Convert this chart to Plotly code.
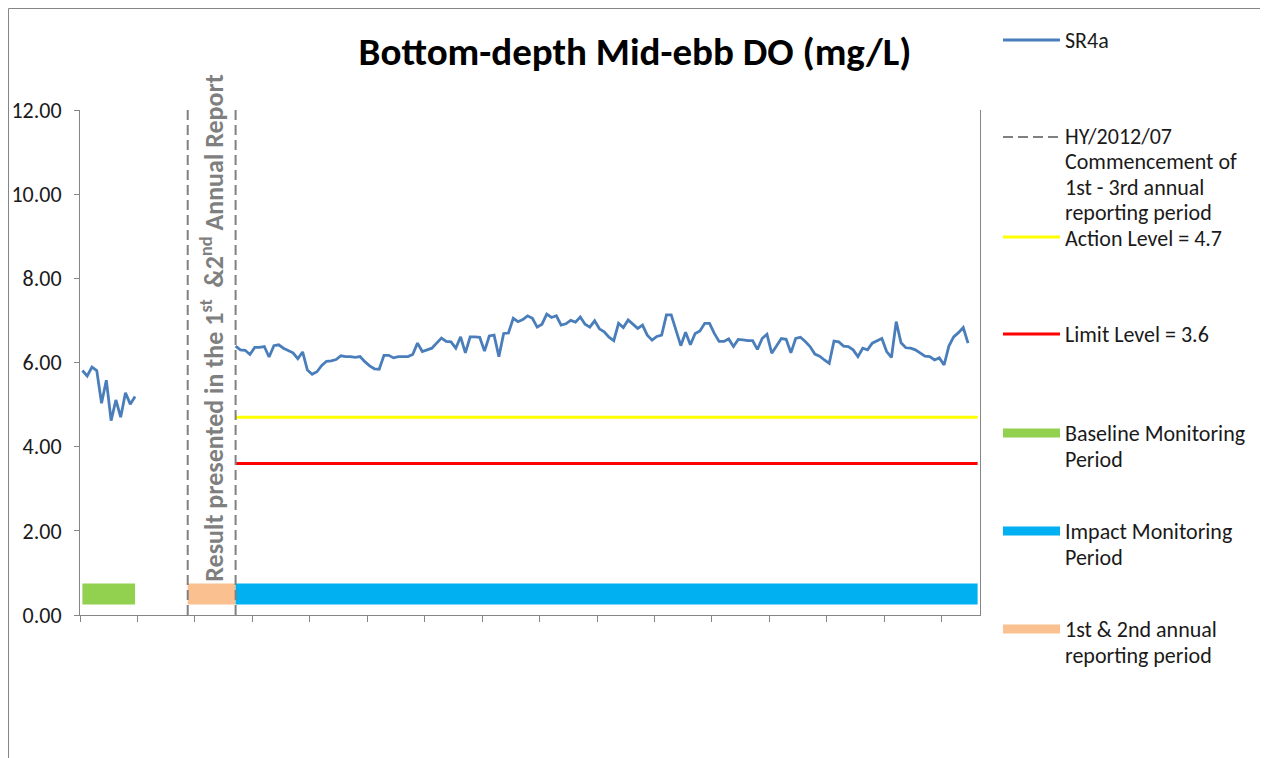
import plotly.graph_objects as go

# ---------------- data ----------------
N_CATEGORIES = 188                      # monitoring-event categories on the x axis
TICK_EVERY = 12                         # a tick mark every 12 categories

baseline_start = 0
baseline_do = [5.81, 5.68, 5.89, 5.81, 5.03, 5.58, 4.62, 5.11, 4.70, 5.28, 5.01, 5.19]

impact_start = 32
impact_do = [
    6.39, 6.30, 6.29, 6.19, 6.36, 6.36, 6.38, 6.13, 6.40, 6.42,
    6.34, 6.29, 6.23, 6.09, 6.25, 5.82, 5.72, 5.78, 5.93, 6.03,
    6.04, 6.07, 6.16, 6.14, 6.14, 6.12, 6.14, 6.02, 5.92, 5.85,
    5.84, 6.17, 6.17, 6.11, 6.14, 6.14, 6.14, 6.19, 6.46, 6.26,
    6.30, 6.34, 6.46, 6.58, 6.50, 6.49, 6.34, 6.61, 6.23, 6.61,
    6.61, 6.60, 6.27, 6.63, 6.65, 6.14, 6.69, 6.70, 7.05, 6.97,
    7.02, 7.11, 7.05, 6.84, 6.91, 7.15, 7.07, 7.11, 6.89, 6.92,
    7.00, 6.96, 7.08, 6.91, 6.84, 6.99, 6.80, 6.73, 6.60,
    6.52, 6.93, 6.83, 7.01, 6.91, 6.81, 6.89, 6.65, 6.53, 6.62,
    6.65, 7.13, 7.13, 6.77, 6.40, 6.72, 6.42, 6.69, 6.75, 6.93,
    6.93, 6.69, 6.50, 6.50, 6.56, 6.38, 6.55, 6.54, 6.52, 6.52,
    6.31, 6.57, 6.67, 6.22, 6.38, 6.57, 6.55, 6.23, 6.57, 6.60,
    6.50, 6.38, 6.20, 6.15, 6.06, 5.98, 6.51, 6.49, 6.39, 6.38,
    6.30, 6.14, 6.34, 6.30, 6.46, 6.51, 6.57, 6.26, 6.12, 6.97,
    6.47, 6.35, 6.34, 6.30, 6.22, 6.15, 6.14, 6.06, 6.11, 5.94,
    6.39, 6.61, 6.71, 6.83, 6.46,
]

commencement_lines = [22, 32]           # HY/2012/07 commencement markers (category index)
action_level = 4.7
limit_level = 3.6
level_span = [32, 187]

period_level = 0.5
baseline_period = [0, 11]
annual_period = [22, 32]
impact_period = [32, 187]

y_ticks = [0, 2, 4, 6, 8, 10, 12]

# ---------------- styles ----------------
FONT = "Calibri, Carlito, Lato, sans-serif"
C_SERIES = "#4A7EBB"
C_DASH = "#808080"
C_ACTION = "#FFFF00"
C_LIMIT = "#FF0000"
C_BASE = "#92D050"
C_IMPACT = "#00B0F0"
C_ANNUAL = "#FAC090"
AXIS_C = "#868686"
TXT_C = "#1a1a1a"

fig = go.Figure()

# period bars
for per, col in [(baseline_period, C_BASE), (annual_period, C_ANNUAL), (impact_period, C_IMPACT)]:
    fig.add_trace(go.Scatter(x=per, y=[period_level, period_level], mode="lines",
                             line=dict(color=col, width=21), showlegend=False, hoverinfo="skip"))

# action / limit levels
fig.add_trace(go.Scatter(x=level_span, y=[action_level] * 2, mode="lines",
                         line=dict(color=C_ACTION, width=3), showlegend=False))
fig.add_trace(go.Scatter(x=level_span, y=[limit_level] * 2, mode="lines",
                         line=dict(color=C_LIMIT, width=3), showlegend=False))

# commencement dashed lines
for cx in commencement_lines:
    fig.add_trace(go.Scatter(x=[cx, cx], y=[0, 12], mode="lines",
                             line=dict(color=C_DASH, width=2, dash="10px,5px"),
                             showlegend=False, hoverinfo="skip"))

# SR4a series
fig.add_trace(go.Scatter(x=list(range(baseline_start, baseline_start + len(baseline_do))),
                         y=baseline_do, mode="lines",
                         line=dict(color=C_SERIES, width=2.8), showlegend=False, name="SR4a"))
fig.add_trace(go.Scatter(x=list(range(impact_start, impact_start + len(impact_do))),
                         y=impact_do, mode="lines",
                         line=dict(color=C_SERIES, width=2.8), showlegend=False, name="SR4a"))

# ---------------- layout ----------------
OFF = 8                                  # page offset of the figure in the window
W, H = 1256, 750
L, T = 72, 102
PW, PH = 900, 505
R, B = W - L - PW, H - T - PH


def px_x(sx):
    return (sx - OFF - L) / PW


def px_y(sy):
    return (T + PH - (sy - OFF)) / PH


fig.update_layout(
    width=W, height=H,
    margin=dict(l=L, r=R, t=T, b=B, autoexpand=False),
    paper_bgcolor="white", plot_bgcolor="white",
    font=dict(family=FONT, color=TXT_C),
    showlegend=False,
    title=dict(text="<b>Bottom-depth Mid-ebb DO (mg/L)</b>", x=(635 - OFF) / W, xref="container",
               y=1 - (51 - OFF) / H, yanchor="middle", xanchor="center", automargin=False,
               font=dict(size=39, family=FONT, color="#000000")),
)

fig.update_xaxes(range=[-0.5, N_CATEGORIES - 0.5], showgrid=False, zeroline=False,
                 showline=True, linecolor=AXIS_C, linewidth=1, automargin=False,
                 ticks="outside", ticklen=6, tickcolor=AXIS_C,
                 tick0=-0.5, dtick=TICK_EVERY, showticklabels=False)
fig.update_yaxes(range=[0, 12], showgrid=False, zeroline=False, automargin=False,
                 showline=True, linecolor=AXIS_C, linewidth=1, mirror=True,
                 ticks="outside", ticklen=5, tickcolor=AXIS_C,
                 tickvals=y_ticks, tickformat=".2f", ticklabelstandoff=8,
                 tickfont=dict(size=22, family=FONT, color=TXT_C))

# rotated note between dashed lines
fig.add_annotation(x=sum(commencement_lines) / 2, xref="x", y=px_y(328), yref="paper",
                   text="<b>Result presented in the 1<sup>st</sup>  &2<sup>nd</sup> Annual Report</b>",
                   textangle=-90, showarrow=False, xanchor="center", yanchor="middle",
                   font=dict(size=26, family=FONT, color="#7F7F7F"))

# outer chart border
fig.add_shape(type="rect", xref="paper", yref="paper",
              x0=px_x(8.5), x1=px_x(1262), y0=px_y(775), y1=px_y(8.5),
              line=dict(color=AXIS_C, width=1), fillcolor="rgba(0,0,0,0)", layer="below")

# manual legend: (symbol y, colour, width, dash, text lines, first-text y, line gap)
legend_items = [
    (40, C_SERIES, 2.8, "solid", ["SR4a"], 40, 26),
    (137, C_DASH, 2, "10px,5px", ["HY/2012/07", "Commencement of", "1st - 3rd annual", "reporting period"], 136, 25.5),
    (237, C_ACTION, 3, "solid", ["Action Level = 4.7"], 238, 26),
    (334, C_LIMIT, 3, "solid", ["Limit Level = 3.6"], 334, 26),
    (433, C_BASE, 9, "solid", ["Baseline Monitoring", "Period"], 433, 26),
    (531, C_IMPACT, 9, "solid", ["Impact Monitoring", "Period"], 531, 26),
    (629, C_ANNUAL, 9, "solid", ["1st & 2nd annual", "reporting period"], 629, 26),
]
for ypx, col, wd, dash, lines, ty, gap in legend_items:
    fig.add_shape(type="line", xref="paper", yref="paper",
                  x0=px_x(1003), x1=px_x(1060), y0=px_y(ypx), y1=px_y(ypx),
                  line=dict(color=col, width=wd, dash=dash))
    for i, txt in enumerate(lines):
        fig.add_annotation(x=px_x(1063), y=px_y(ty + gap * i), xref="paper", yref="paper",
                           text=txt, showarrow=False, xanchor="left", yanchor="middle",
                           font=dict(size=22, family=FONT, color=TXT_C))

fig.write_html("out.html")
